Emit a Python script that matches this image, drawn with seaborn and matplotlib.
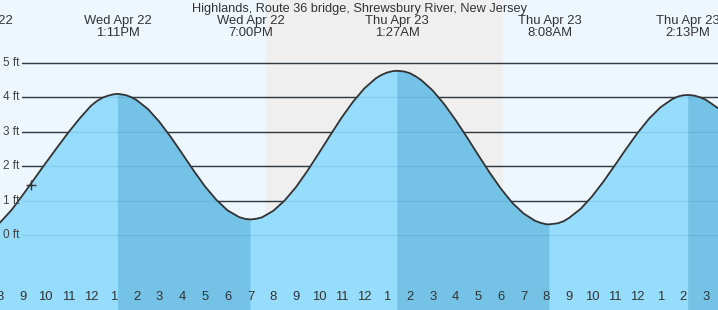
import matplotlib
matplotlib.use("Agg")
import matplotlib.pyplot as plt
import seaborn as sns
import numpy as np

# ---------------- data ----------------
title = "Highlands, Route 36 bridge, Shrewsbury River, New Jersey"

# hours since Wed Apr 22 00:00, tide height in feet
tide_hours = [8.0, 8.5, 9.0, 9.5, 10.0, 10.5, 11.0, 11.5, 12.0, 12.25, 12.5, 12.75, 13.0, 13.18,
              13.5, 13.75, 14.0, 14.5, 15.0, 15.5, 16.0, 16.5, 17.0, 17.5, 18.0, 18.5, 18.75, 19.0,
              19.25, 19.5, 20.0, 20.5, 21.0, 21.5, 22.0, 22.5, 23.0, 23.5, 24.0, 24.5, 24.75,
              25.0, 25.25, 25.45, 25.75, 26.0, 26.25, 26.5, 27.0, 27.5, 28.0, 28.5, 29.0, 29.5,
              30.0, 30.5, 31.0, 31.5, 31.75, 32.0, 32.13, 32.5, 32.75, 33.0, 33.5, 34.0, 34.5,
              35.0, 35.5, 36.0, 36.5, 37.0, 37.5, 37.75, 38.0, 38.22, 38.5, 38.75, 39.0, 39.5, 39.6]
tide_feet = [0.36, 0.72, 1.16, 1.62, 2.08, 2.53, 2.97, 3.38, 3.75, 3.88, 3.98, 4.04, 4.08, 4.09,
             4.06, 4.00, 3.91, 3.65, 3.28, 2.84, 2.36, 1.87, 1.41, 1.02, 0.71, 0.52, 0.47, 0.45,
             0.47, 0.51, 0.70, 1.00, 1.39, 1.86, 2.37, 2.89, 3.40, 3.86, 4.25, 4.54, 4.64,
             4.71, 4.75, 4.76, 4.74, 4.69, 4.60, 4.49, 4.19, 3.80, 3.34, 2.84, 2.32, 1.81,
             1.34, 0.93, 0.62, 0.41, 0.35, 0.31, 0.31, 0.34, 0.40, 0.50, 0.76, 1.12, 1.55,
             2.02, 2.50, 2.96, 3.37, 3.70, 3.93, 4.01, 4.05, 4.06, 4.04, 3.99, 3.92, 3.69, 3.64]

# tide events (labels at top)
event_hours = [7.07, 13.183, 19.0, 25.45, 32.133, 38.217]
event_days = ["Wed Apr 22", "Wed Apr 22", "Wed Apr 22", "Thu Apr 23", "Thu Apr 23", "Thu Apr 23"]
event_clock = ["7:04AM", "1:11PM", "7:00PM", "1:27AM", "8:08AM", "2:13PM"]

# falling-tide spans (high -> low), drawn darker
falling_spans = [(13.18, 19.0), (25.45, 32.13), (38.22, 39.6)]

# night (sunset -> sunrise)
night_start, night_end = 19.70, 30.08

# current time marker
now_hour, now_feet = 9.35, 1.45

y_levels = [0, 1, 2, 3, 4, 5]
y_labels = ["0 ft", "1 ft", "2 ft", "3 ft", "4 ft", "5 ft"]

tick_hours = list(range(8, 40))
tick_labels = [str((h - 1) % 12 + 1) for h in tick_hours]

# ---------------- style ----------------
sns.set_style("white")
plt.rcParams['font.family'] = ['Liberation Sans', 'DejaVu Sans']

BG = "#eef7ff"
NIGHT = "#efefef"
FILL = "#96dcfd"
FILL_DARK = "#74c2e6"
INK = "#333333"

fig = plt.figure(figsize=(7.18, 3.10), dpi=100)
fig.patch.set_facecolor(BG)
ax = fig.add_axes([0, 0, 1, 1])
ax.set_facecolor(BG)
for s in ax.spines.values():
    s.set_visible(False)

ax.set_xlim(8.035, 39.53)
ax.set_ylim(-2.174, 6.812)

# night band
ax.axvspan(night_start, night_end, color=NIGHT, zorder=0.5, lw=0)

# dark gridlines (behind water)
for lv in y_levels:
    ax.axhline(lv, xmin=22 / 718, xmax=1, color=INK, lw=1.0, zorder=1)

t = np.array(tide_hours)
f = np.array(tide_feet)
ax.fill_between(t, f, -5, color=FILL, lw=0, zorder=2)
for a, b in falling_spans:
    m = (t >= a) & (t <= b)
    ax.fill_between(t, f, -5, where=m, color=FILL_DARK, lw=0, zorder=2.1)

# faint gridlines over water
for lv in y_levels:
    ax.axhline(lv, xmin=22 / 718, xmax=1, color="#1f6f9f", alpha=0.13, lw=1.0, zorder=3)

sns.lineplot(x=tide_hours, y=tide_feet, ax=ax, color=INK, linewidth=1.3,
             sort=False, zorder=5, legend=False)

ax.plot([now_hour], [now_feet], marker="+", ms=7, mew=1.0, color=INK, zorder=6)

# y labels
ytr = ax.get_yaxis_transform()
for lv, lab in zip(y_levels, y_labels):
    ax.text(3 / 718, lv, lab, transform=ytr, ha="left", va="center",
            fontsize=8.5, color="#444444", zorder=7)

# x ticks and labels
ax.set_yticks([])
ax.set_xticks(tick_hours)
ax.tick_params(axis="x", direction="in", length=8, width=1, color=INK,
               labelbottom=False, bottom=True)
for tk, h in zip(ax.xaxis.get_major_ticks(), tick_hours):
    if h == 24:
        tk.tick1line.set_markeredgewidth(3)
xtr = ax.get_xaxis_transform()
for h, lab in zip(tick_hours, tick_labels):
    ax.text(h, 10 / 310, lab, transform=xtr, ha="center", va="baseline",
            fontsize=9.4, color="#333333", clip_on=False, zorder=7)

# event labels
for h, d, c in zip(event_hours, event_days, event_clock):
    ax.text(h, 1 - 24.3 / 310, d, transform=xtr, ha="center", va="baseline",
            fontsize=9.4, color="#333333", zorder=7)
    ax.text(h, 1 - 36 / 310, c, transform=xtr, ha="center", va="baseline",
            fontsize=9.4, color="#333333", zorder=7)

fig.text(0.5, 1 - 11.7 / 310, title, ha="center", va="baseline",
         fontsize=9.2, color="#333333")

fig.savefig("out.png", dpi=100, facecolor=BG)
